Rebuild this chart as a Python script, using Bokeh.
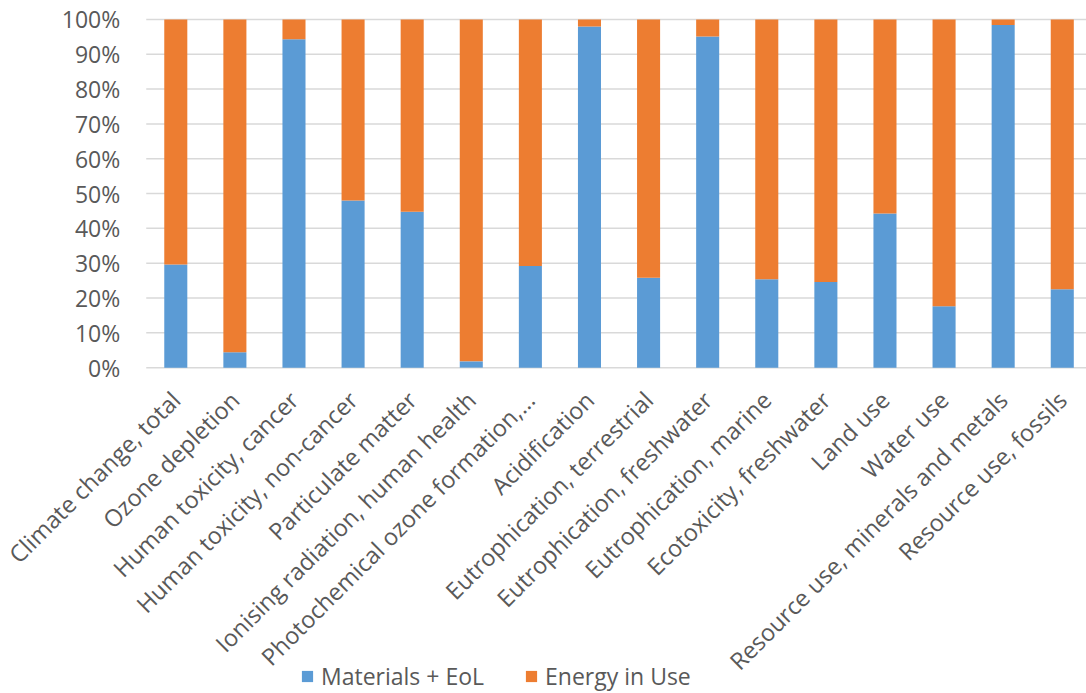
import math
from bokeh.plotting import figure
from bokeh.models import (ColumnDataSource, Range1d, FixedTicker, PrintfTickFormatter,
                          Legend, LegendItem)
from bokeh.embed import file_html
from bokeh.resources import INLINE

categories = [
    "Climate change, total", "Ozone depletion", "Human toxicity, cancer",
    "Human toxicity, non-cancer", "Particulate matter", "Ionising radiation, human health",
    "Photochemical ozone formation,...", "Acidification", "Eutrophication, terrestrial",
    "Eutrophication, freshwater", "Eutrophication, marine", "Ecotoxicity, freshwater",
    "Land use", "Water use", "Resource use, minerals and metals", "Resource use, fossils",
]
materials_eol = [29.6, 4.4, 94.3, 48.0, 44.8, 1.8, 29.2, 98.0, 25.8, 95.1, 25.4, 24.6, 44.3, 17.6, 98.4, 22.5]
energy_in_use = [70.4, 95.6, 5.7, 52.0, 55.2, 98.2, 70.8, 2.0, 74.2, 4.9, 74.6, 75.4, 55.7, 82.4, 1.6, 77.5]
y_ticks = [0, 10, 20, 30, 40, 50, 60, 70, 80, 90, 100]
series_names = ["Materials + EoL", "Energy in Use"]

BLUE = "#5b9bd5"
ORANGE = "#ed7d31"
TXT = "#595959"
GRID = "#d9d9d9"
FONT = "Open Sans"

X_START, X_END = -2.966, 15.41   # category axis view (frame covers full canvas width)
X_LEFT, X_RIGHT = -0.5, 15.41     # plot-area extent for gridlines
Y_START, Y_END = -93.6, 105.45    # frame covers full canvas height; 0..100 sits at 367..19 px

xs = list(range(len(categories)))
src = ColumnDataSource(dict(x=xs, mat=materials_eol, en=energy_in_use))
grid_src = ColumnDataSource(dict(y=y_ticks, x0=[X_LEFT] * len(y_ticks), x1=[X_RIGHT] * len(y_ticks)))

p = figure(width=1086, height=693, output_backend="svg", toolbar_location=None,
           x_range=Range1d(X_START, X_END), y_range=Range1d(Y_START, Y_END),
           min_border_left=0, min_border_right=0, min_border_top=0, min_border_bottom=0)
p.outline_line_color = None

# horizontal gridlines at the value ticks, limited to the plot area
p.segment(x0="x0", x1="x1", y0="y", y1="y", source=grid_src, line_color=GRID, line_width=1.5)

rs = p.vbar_stack(["mat", "en"], x="x", width=0.39, source=src,
                  color=[BLUE, ORANGE], line_color=None)

# x axis drawn at the 0 % line
p.xaxis.fixed_location = 0
p.xaxis.ticker = FixedTicker(ticks=xs)
p.xaxis.major_label_overrides = {i: c for i, c in enumerate(categories)}
p.xaxis.major_label_orientation = math.pi / 4
p.xaxis.major_label_text_font = FONT
p.xaxis.major_label_text_font_size = "23.5px"
p.xaxis.major_label_text_color = TXT
p.xaxis.axis_line_color = None
p.xaxis.major_tick_line_color = None
p.xaxis.minor_tick_line_color = None
p.xaxis.major_tick_out = 0
p.xaxis.major_label_standoff = 28

# y axis drawn at the left edge of the plot area
p.yaxis.fixed_location = X_LEFT
p.yaxis.ticker = FixedTicker(ticks=y_ticks)
p.yaxis.formatter = PrintfTickFormatter(format="%d%%")
p.yaxis.major_label_text_font = FONT
p.yaxis.major_label_text_font_size = "23px"
p.yaxis.major_label_text_color = TXT
p.yaxis.axis_line_color = None
p.yaxis.major_tick_line_color = None
p.yaxis.minor_tick_line_color = None
p.yaxis.major_tick_out = 0
p.yaxis.major_label_standoff = 26

p.xgrid.grid_line_color = None
p.ygrid.grid_line_color = None

legend = Legend(items=[LegendItem(label=series_names[0], renderers=[rs[0]]),
                       LegendItem(label=series_names[1], renderers=[rs[1]])],
                orientation="horizontal", location=(300, 1),
                label_text_font=FONT, label_text_font_size="23px", label_text_color=TXT,
                glyph_width=14, glyph_height=14, spacing=40, padding=0, margin=0,
                label_standoff=7,
                border_line_color=None, background_fill_alpha=0)
p.add_layout(legend, "center")

open("out.html", "w").write(file_html(p, INLINE))
